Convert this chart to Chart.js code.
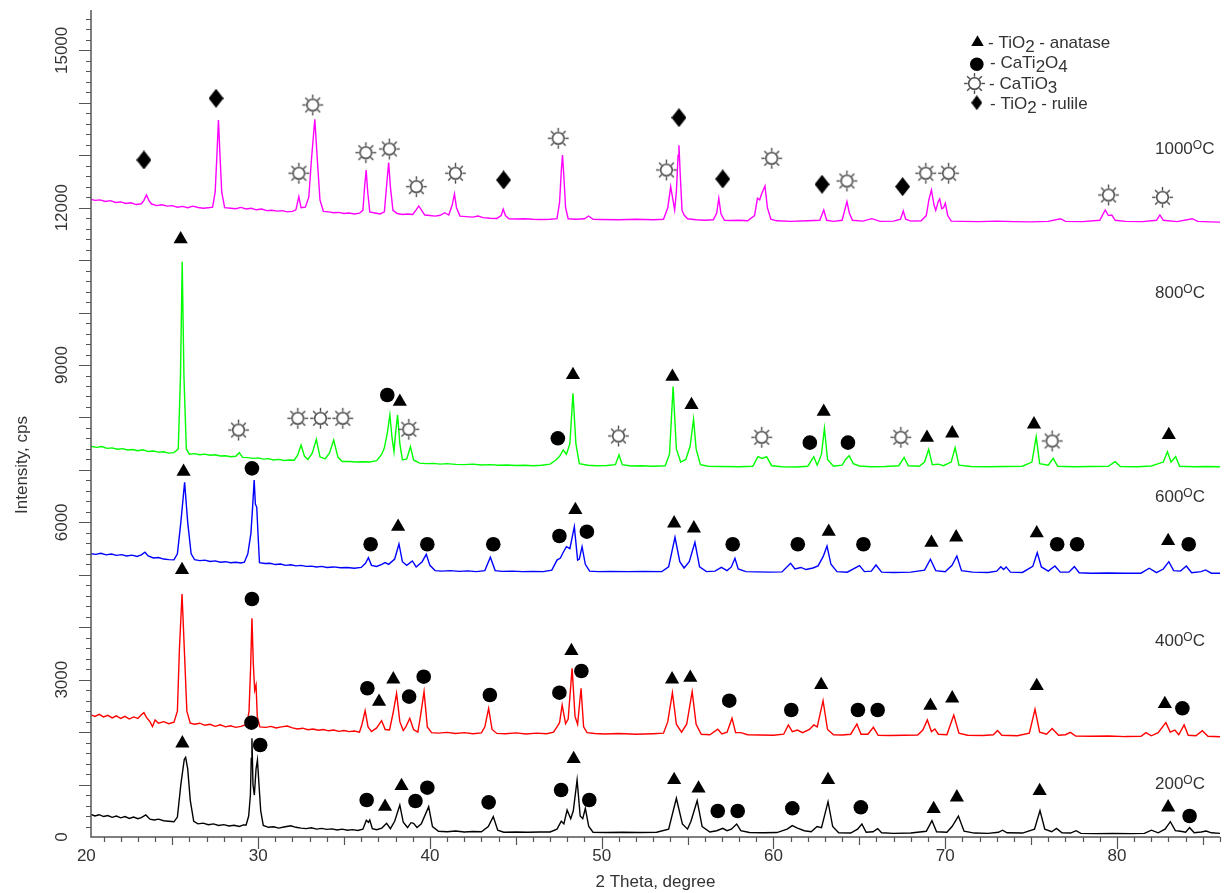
<!DOCTYPE html>
<html>
<head>
<meta charset="utf-8">
<script src="https://cdn.jsdelivr.net/npm/chart.js@4.4.1/dist/chart.umd.min.js"></script>
<style>
  html, body { margin: 0; padding: 0; background: #fff; }
  #wrap { width: 1230px; height: 893px; position: relative; }
</style>
</head>
<body>
<div id="wrap"><canvas id="c"></canvas></div>
<script>
// ---------- DATA (2θ, intensity in cps) ----------
const xTickLabels = [20, 30, 40, 50, 60, 70, 80];
const yTickLabels = [0, 3000, 6000, 9000, 12000, 15000];
const seriesNames = ['1000', '800', '600', '400', '200'];

const s1000 = [[20.27,12160],[20.5,12140],[20.8,12150],[21.1,12120],[21.4,12135],[21.7,12100],[22.0,12110],[22.3,12080],[22.6,12095],[22.9,12060],[23.2,12075],[23.35,12140],[23.5,12243],[23.65,12130],[23.8,12070],[24.1,12040],[24.4,12055],[24.7,12030],[25.0,12040],[25.3,12010],[25.6,12025],[25.9,12000],[26.2,12030],[26.5,12005],[26.8,11990],[27.1,12000],[27.35,12010],[27.5,12300],[27.6,13000],[27.69,13673],[27.78,13000],[27.88,12300],[28.05,12000],[28.4,11990],[28.7,11980],[29.0,12005],[29.3,11975],[29.6,11990],[29.9,11960],[30.2,11975],[30.5,11945],[30.8,11950],[31.1,11935],[31.4,11945],[31.7,11920],[32.0,11930],[32.2,11960],[32.37,12211],[32.5,12000],[32.75,12010],[32.95,12200],[33.1,12900],[33.3,13686],[33.45,12900],[33.6,12150],[33.8,11930],[34.1,11920],[34.4,11905],[34.7,11910],[35.0,11890],[35.3,11900],[35.6,11880],[35.9,11895],[36.1,11950],[36.2,12400],[36.29,12720],[36.38,12300],[36.5,11920],[36.8,11900],[37.1,11880],[37.35,11920],[37.5,12500],[37.6,12860],[37.7,12400],[37.85,11950],[38.1,11890],[38.4,11870],[38.7,11880],[39.0,11870],[39.2,11960],[39.35,12033],[39.5,11960],[39.7,11860],[40.0,11850],[40.3,11840],[40.6,11855],[40.86,11905],[41.1,11860],[41.3,12050],[41.43,12262],[41.55,12000],[41.75,11840],[42.1,11830],[42.5,11820],[42.8,11840],[43.1,11810],[43.5,11800],[43.9,11795],[44.15,11850],[44.27,11970],[44.4,11850],[44.6,11790],[45.0,11785],[45.5,11790],[46.0,11780],[46.5,11775],[47.0,11780],[47.4,11790],[47.55,12100],[47.65,12700],[47.72,13006],[47.8,12600],[47.9,12000],[48.05,11790],[48.5,11780],[49.0,11790],[49.24,11842],[49.5,11780],[50.0,11775],[51,11770],[52,11780],[53,11770],[53.6,11780],[53.85,12000],[54.02,12401],[54.15,12150],[54.25,11957],[54.35,12300],[54.45,13000],[54.5,13190],[54.58,12600],[54.68,11950],[54.8,11860],[55.0,11790],[55.5,11770],[56,11760],[56.5,11770],[56.7,11900],[56.82,12180],[56.95,11880],[57.15,11760],[57.5,11755],[58,11760],[58.5,11750],[58.9,11850],[59.07,12180],[59.2,12150],[59.3,12250],[59.51,12414],[59.65,12000],[59.85,11780],[60.2,11750],[61,11740],[62,11750],[62.7,11760],[62.93,11957],[63.1,11760],[63.5,11740],[64.0,11760],[64.15,11950],[64.28,12116],[64.42,11900],[64.6,11760],[65.2,11745],[65.73,11792],[66.2,11740],[67,11745],[67.4,11780],[67.56,11938],[67.7,11780],[68.0,11745],[68.6,11750],[68.9,11850],[69.05,12150],[69.2,12338],[69.35,12050],[69.45,11950],[69.6,12120],[69.68,12167],[69.8,11980],[69.9,12000],[70.01,12085],[70.15,11850],[70.35,11745],[71,11740],[72,11735],[73,11745],[74,11735],[75,11730],[76,11740],[76.71,11790],[77,11740],[78,11735],[79.0,11760],[79.32,11957],[79.5,11850],[79.7,11860],[79.9,11760],[80.5,11740],[81.5,11735],[82.3,11760],[82.5,11861],[82.7,11760],[83.5,11735],[84.38,11790],[84.7,11740],[85.4,11730],[86.0,11725]];

const s800 = [[20.27,7450],[20.6,7430],[20.9,7445],[21.2,7410],[21.5,7420],[21.8,7395],[22.1,7405],[22.4,7380],[22.7,7390],[23.0,7365],[23.3,7385],[23.6,7350],[23.9,7360],[24.2,7340],[24.5,7345],[24.8,7320],[25.1,7330],[25.35,7400],[25.48,8800],[25.58,10971],[25.68,8800],[25.82,7400],[26.0,7300],[26.3,7310],[26.6,7290],[26.9,7300],[27.2,7280],[27.5,7290],[27.8,7265],[28.1,7270],[28.4,7250],[28.7,7260],[28.9,7329],[29.1,7240],[29.4,7235],[29.7,7220],[30.0,7230],[30.3,7205],[30.6,7215],[30.9,7190],[31.2,7200],[31.5,7180],[31.8,7190],[32.1,7185],[32.3,7280],[32.5,7475],[32.7,7260],[32.9,7200],[33.15,7320],[33.39,7584],[33.6,7250],[33.9,7210],[34.15,7320],[34.4,7571],[34.65,7240],[34.9,7160],[35.3,7160],[35.7,7150],[36.1,7155],[36.5,7150],[36.9,7175],[37.2,7300],[37.35,7420],[37.52,7700],[37.67,8048],[37.8,7600],[37.91,7348],[38.0,7700],[38.12,8048],[38.25,7500],[38.4,7190],[38.65,7210],[38.87,7443],[39.05,7190],[39.4,7130],[39.8,7120],[40.2,7125],[40.6,7110],[41.0,7120],[41.5,7105],[42,7100],[42.5,7110],[43,7094],[43.5,7100],[44,7090],[44.5,7095],[45,7085],[45.5,7090],[46,7080],[46.5,7090],[47.0,7110],[47.3,7180],[47.55,7260],[47.76,7380],[47.95,7300],[48.15,7500],[48.33,8461],[48.5,7500],[48.7,7120],[49.2,7090],[49.7,7080],[50.3,7085],[50.8,7100],[51.01,7285],[51.2,7100],[51.7,7075],[52.3,7080],[53,7070],[53.7,7080],[53.95,7300],[54.16,8588],[54.35,7400],[54.6,7150],[54.9,7200],[55.15,7450],[55.35,7966],[55.5,7400],[55.75,7100],[56.2,7070],[57,7065],[58,7060],[58.8,7070],[59.1,7253],[59.35,7220],[59.6,7253],[59.9,7080],[60.5,7060],[61.3,7055],[62.0,7070],[62.35,7252],[62.55,7090],[62.8,7300],[62.97,7794],[63.15,7200],[63.5,7070],[64.0,7090],[64.2,7200],[64.41,7272],[64.65,7120],[65,7075],[65.7,7060],[66.5,7065],[67.3,7080],[67.61,7240],[67.85,7080],[68.5,7070],[68.8,7150],[69.04,7393],[69.25,7100],[69.6,7110],[69.9,7080],[70.35,7150],[70.58,7424],[70.8,7090],[71.5,7065],[72.5,7060],[73.5,7065],[74.5,7070],[75.05,7150],[75.3,7634],[75.5,7120],[76.0,7090],[76.29,7221],[76.55,7070],[77.5,7060],[78.5,7065],[79.5,7070],[79.89,7157],[80.2,7065],[81.2,7060],[82.0,7075],[82.7,7150],[82.94,7348],[83.15,7150],[83.42,7253],[83.65,7070],[84.5,7060],[85.3,7065],[86.0,7060]];

const s600 = [[20.27,5400],[20.55,5390],[20.85,5410],[21.15,5380],[21.45,5395],[21.75,5370],[22.05,5385],[22.35,5360],[22.65,5375],[22.95,5350],[23.2,5380],[23.41,5430],[23.6,5360],[23.9,5320],[24.2,5330],[24.5,5300],[24.8,5290],[25.1,5285],[25.3,5400],[25.5,6000],[25.72,6764],[25.9,6000],[26.1,5400],[26.3,5290],[26.6,5270],[26.9,5280],[27.2,5255],[27.5,5265],[27.8,5240],[28.1,5250],[28.4,5230],[28.7,5240],[29.0,5225],[29.2,5240],[29.4,5400],[29.58,5791],[29.68,6300],[29.77,6808],[29.84,6350],[29.92,6287],[29.99,5800],[30.08,5230],[30.4,5215],[30.7,5220],[31.0,5195],[31.3,5205],[31.6,5180],[31.9,5190],[32.2,5170],[32.5,5180],[32.8,5160],[33.1,5165],[33.4,5150],[33.7,5160],[34.0,5140],[34.4,5150],[34.8,5135],[35.2,5140],[35.6,5125],[36.0,5140],[36.25,5220],[36.42,5327],[36.6,5180],[36.9,5160],[37.2,5200],[37.39,5232],[37.6,5200],[37.95,5300],[38.2,5588],[38.4,5250],[38.65,5180],[38.98,5264],[39.2,5150],[39.55,5250],[39.79,5391],[40.0,5180],[40.3,5080],[40.7,5070],[41.2,5080],[41.7,5065],[42.2,5075],[42.7,5060],[43.2,5080],[43.52,5334],[43.8,5080],[44.2,5065],[44.8,5070],[45.4,5060],[46,5065],[46.6,5060],[47.1,5090],[47.4,5280],[47.6,5320],[47.75,5420],[47.95,5536],[48.15,5500],[48.41,5918],[48.6,5280],[48.7,5300],[48.86,5536],[49.05,5200],[49.3,5070],[49.8,5060],[50.5,5065],[51.5,5060],[52.5,5065],[53.5,5060],[53.9,5150],[54.27,5715],[54.55,5250],[54.8,5130],[55.1,5250],[55.43,5620],[55.7,5150],[56.1,5060],[56.6,5070],[56.97,5143],[57.3,5080],[57.55,5150],[57.76,5315],[57.95,5110],[58.4,5060],[59,5055],[59.8,5050],[60.5,5055],[61.0,5219],[61.25,5110],[61.6,5140],[61.9,5100],[62.3,5130],[62.6,5170],[62.9,5350],[63.12,5549],[63.35,5200],[63.7,5060],[64.3,5050],[65.01,5174],[65.3,5060],[65.7,5070],[65.97,5187],[66.3,5050],[67,5045],[68,5050],[68.8,5090],[69.14,5296],[69.45,5080],[70.0,5060],[70.4,5180],[70.68,5359],[70.95,5080],[71.6,5050],[72.5,5045],[73.0,5070],[73.24,5155],[73.4,5100],[73.55,5150],[73.8,5050],[74.5,5045],[75.1,5160],[75.36,5422],[75.6,5150],[76.0,5070],[76.39,5168],[76.7,5050],[77.2,5050],[77.52,5155],[77.8,5040],[78.5,5030],[79.5,5035],[80.5,5030],[81.4,5030],[81.88,5125],[82.3,5040],[82.7,5110],[83.02,5250],[83.3,5080],[83.7,5070],[84.04,5168],[84.35,5040],[84.9,5060],[85.16,5092],[85.5,5030],[86.0,5028]];

const s400 = [[20.27,2330],[20.5,2300],[20.75,2340],[21.0,2290],[21.25,2320],[21.5,2270],[21.75,2310],[22.0,2260],[22.25,2300],[22.5,2250],[22.75,2290],[23.0,2260],[23.2,2330],[23.35,2371],[23.5,2280],[23.7,2200],[23.85,2104],[24.0,2230],[24.2,2170],[24.5,2200],[24.8,2160],[25.1,2190],[25.3,2400],[25.42,3600],[25.57,4634],[25.7,3600],[25.85,2400],[26.05,2170],[26.3,2150],[26.6,2170],[26.9,2130],[27.2,2150],[27.5,2110],[27.8,2140],[28.1,2100],[28.4,2120],[28.7,2090],[29.0,2110],[29.35,2150],[29.47,2400],[29.56,3200],[29.64,4171],[29.72,3300],[29.8,2800],[29.88,2899],[29.95,2300],[30.1,2100],[30.45,2090],[30.75,2110],[31.05,2080],[31.35,2100],[31.7,2117],[32.0,2080],[32.3,2060],[32.6,2075],[32.9,2045],[33.2,2060],[33.5,2035],[33.8,2050],[34.1,2025],[34.4,2040],[34.7,2015],[35.0,2030],[35.3,2010],[35.6,2020],[35.9,2000],[36.05,2150],[36.23,2409],[36.4,2100],[36.6,2010],[36.9,2080],[37.19,2218],[37.4,2050],[37.65,2040],[37.85,2350],[38.06,2740],[38.25,2200],[38.45,2030],[38.6,2100],[38.83,2264],[39.05,2050],[39.3,2000],[39.45,2300],[39.66,2771],[39.85,2100],[40.1,1990],[40.5,1980],[41.0,1995],[41.5,1975],[42.0,1990],[42.5,1970],[43.0,1985],[43.2,2100],[43.42,2454],[43.62,2050],[43.9,1975],[44.4,1970],[45.0,1985],[45.6,1965],[46.2,1980],[46.8,1970],[47.2,2000],[47.4,2100],[47.55,2180],[47.7,2518],[47.9,2160],[48.05,2250],[48.28,3217],[48.45,2300],[48.6,2150],[48.8,2836],[48.95,2100],[49.15,1990],[49.6,1975],[50.2,1965],[51,1975],[52,1960],[53,1970],[53.6,1980],[53.85,2200],[54.12,2752],[54.35,2150],[54.65,2000],[54.95,2150],[55.27,2771],[55.5,2150],[55.8,1960],[56.3,1950],[56.76,2055],[57.0,1965],[57.3,2000],[57.59,2264],[57.8,1990],[58.1,1990],[58.5,1950],[59.2,1945],[60.0,1940],[60.6,1960],[60.87,2136],[61.1,2010],[61.4,2040],[61.7,1990],[62.1,2050],[62.35,2136],[62.55,2100],[62.89,2599],[63.15,2050],[63.5,1950],[64.0,1945],[64.5,1960],[64.86,2155],[65.1,1960],[65.5,1960],[65.82,2092],[66.1,1940],[66.8,1935],[67.6,1940],[68.4,1945],[68.7,2040],[68.96,2231],[69.2,2010],[69.4,2060],[69.6,1960],[70.1,1950],[70.5,2327],[70.8,1980],[71.3,1940],[72.2,1935],[72.8,1950],[73.05,2030],[73.3,1940],[74.2,1930],[74.9,1980],[75.23,2435],[75.5,2000],[75.9,1960],[76.23,2068],[76.6,1940],[77.0,1950],[77.29,1996],[77.6,1925],[78.5,1920],[79.5,1925],[80.5,1915],[81.4,1920],[81.69,1990],[82.0,1930],[82.4,1990],[82.85,2180],[83.1,2000],[83.37,2040],[83.6,1950],[83.91,2136],[84.15,1940],[84.6,1930],[84.97,2027],[85.3,1920],[86.0,1913]];

const s200 = [[20.27,430],[20.5,400],[20.75,425],[21.0,390],[21.25,410],[21.5,375],[21.75,400],[22.0,365],[22.25,390],[22.5,355],[22.75,380],[23.0,350],[23.2,370],[23.46,420],[23.7,340],[23.95,325],[24.2,340],[24.5,310],[24.8,300],[25.1,290],[25.3,380],[25.5,1000],[25.7,1480],[25.78,1520],[25.9,1300],[26.05,700],[26.25,300],[26.5,250],[26.8,265],[27.1,235],[27.4,250],[27.7,220],[28.0,235],[28.3,210],[28.6,225],[28.9,200],[29.15,230],[29.3,230],[29.45,400],[29.55,800],[29.6,1500],[29.64,1882],[29.7,1000],[29.78,800],[29.88,1300],[29.96,1468],[30.05,1000],[30.15,500],[30.3,220],[30.6,185],[30.9,195],[31.2,170],[31.5,190],[31.9,215],[32.2,185],[32.5,170],[32.8,160],[33.1,175],[33.4,150],[33.7,165],[34.0,145],[34.3,155],[34.6,135],[34.9,150],[35.2,130],[35.5,140],[35.8,125],[36.1,150],[36.3,320],[36.42,280],[36.5,324],[36.65,160],[36.9,140],[37.2,170],[37.48,260],[37.7,160],[37.95,300],[38.25,610],[38.45,280],[38.7,180],[38.9,273],[39.05,260],[39.25,180],[39.5,250],[39.93,578],[40.15,200],[40.5,110],[41.0,101],[41.5,115],[42,95],[42.5,105],[43.0,100],[43.4,200],[43.69,388],[43.95,130],[44.3,90],[45,95],[45.7,90],[46.4,95],[47.0,95],[47.4,150],[47.65,300],[47.8,250],[47.99,515],[48.2,350],[48.35,500],[48.57,1087],[48.75,400],[48.9,350],[49.05,547],[49.25,200],[49.5,90],[50.3,85],[51.2,90],[52.2,85],[53.2,90],[53.9,150],[54.35,738],[54.7,250],[55.0,150],[55.2,300],[55.56,692],[55.85,200],[56.3,95],[56.7,120],[57.05,165],[57.3,120],[57.55,150],[57.86,248],[58.1,120],[58.6,85],[59.4,80],[60.2,85],[60.8,150],[61.1,216],[61.4,170],[61.8,120],[62.2,100],[62.54,200],[62.8,180],[63.18,674],[63.45,200],[63.8,80],[64.5,75],[64.9,150],[65.15,248],[65.4,90],[65.8,100],[66.07,160],[66.3,80],[67,70],[68,75],[68.9,110],[69.23,311],[69.5,100],[70.1,90],[70.4,200],[70.77,400],[71.1,110],[71.7,75],[72.5,70],[73.1,90],[73.34,130],[73.6,80],[74.5,75],[75.2,150],[75.52,502],[75.8,150],[76.2,100],[76.48,165],[76.8,80],[77.3,75],[77.62,120],[77.9,70],[78.8,65],[79.8,70],[80.8,65],[81.6,70],[82.01,130],[82.4,80],[82.8,150],[83.11,292],[83.4,120],[83.7,110],[84.0,90],[84.23,178],[84.5,80],[84.9,95],[85.19,114],[85.5,80],[86.0,70]];

// Phase markers (position of each symbol)
const anatasePts = [[25.49,11398],[38.25,8301],[48.33,8810],[54.12,8778],[55.23,8238],[62.93,8111],[68.94,7615],[70.41,7698],[75.17,7870],[83.02,7666],
  [25.66,6967],[38.15,5918],[48.47,6236],[54.22,5982],[55.37,5887],[63.22,5822],[69.20,5613],[70.64,5715],[75.33,5792],[82.98,5645],
  [25.57,5092],[37.04,2580],[37.87,3007],[48.24,3547],[54.10,3007],[55.16,3038],[62.78,2899],[69.14,2504],[70.41,2645],[75.33,2880],[82.79,2536],
  [25.59,1787],[37.39,578],[38.35,973],[48.37,1487],[54.22,1087],[55.64,928],[63.18,1087],[69.33,534],[70.68,757],[75.50,877],[82.98,566]];
const caTi2O4Pts = [[37.52,8429],[47.45,7603],[62.12,7520],[64.34,7520],
  [29.64,7030],[36.55,5582],[39.85,5582],[43.69,5582],[47.54,5740],[49.14,5822],[57.63,5582],[61.42,5582],[65.24,5582],[76.52,5582],[77.68,5582],[84.18,5582],
  [29.64,4539],[36.36,2836],[38.79,2676],[39.64,3057],[43.49,2708],[47.54,2752],[48.82,3166],[57.43,2599],[61.04,2422],[64.92,2422],[66.07,2422],[83.81,2454],
  [29.61,2180],[30.12,1754],[36.32,706],[39.16,687],[39.85,940],[43.42,661],[47.64,896],[49.28,706],[56.76,496],[57.92,496],[61.10,547],[65.09,566],[84.23,400]];
const caTiO3Pts = [[32.37,12657],[33.18,13959],[36.27,13050],[37.64,13120],[39.21,12401],[41.49,12657],[47.47,13324],[53.77,12720],[59.90,12943],[64.28,12510],[68.87,12657],[70.20,12657],[79.51,12243],[82.65,12199],
  [28.86,7761],[32.31,7984],[33.63,7984],[34.93,7984],[38.77,7775],[50.98,7647],[59.32,7622],[67.42,7622],[76.23,7552]];
const rutilePts = [[23.35,12910],[27.55,14087],[44.29,12529],[54.50,13717],[57.05,12548],[62.83,12447],[67.52,12401]];

// ---------- STYLE ----------
const FAMILY = "'Liberation Sans', Arial, sans-serif";
const TEXT = '#333333';
const AXIS = '#555555';
const curveColors = { '1000': '#ff00ff', '800': '#00ff00', '600': '#0000ff', '400': '#ff0000', '200': '#000000' };
const curveData = { '1000': s1000, '800': s800, '600': s600, '400': s400, '200': s200 };
const labelBaselines = { '1000': 154, '800': 298, '600': 501.5, '400': 646, '200': 789 };

function makeSun(scale) {
  const s = scale || 1;
  const size = Math.ceil(23 * s);
  const c = document.createElement('canvas');
  c.width = size; c.height = size;
  const g = c.getContext('2d');
  const cx = size / 2, cy = size / 2;
  g.strokeStyle = '#4a4a4a'; g.lineWidth = 1.5;
  g.fillStyle = '#fff';
  g.beginPath(); g.arc(cx, cy, 5.8 * s, 0, Math.PI * 2); g.fill(); g.stroke();
  g.lineWidth = 1.4;
  for (let i = 0; i < 8; i++) {
    const a = i * Math.PI / 4;
    g.beginPath();
    g.moveTo(cx + Math.cos(a) * 6.8 * s, cy + Math.sin(a) * 6.8 * s);
    g.lineTo(cx + Math.cos(a) * 10.4 * s, cy + Math.sin(a) * 10.4 * s);
    g.stroke();
  }
  return c;
}
function makeDiamond(w, h) {
  const c = document.createElement('canvas');
  c.width = w; c.height = h;
  const g = c.getContext('2d');
  g.fillStyle = '#000';
  g.beginPath(); g.moveTo(w / 2, 0); g.lineTo(w, h / 2); g.lineTo(w / 2, h); g.lineTo(0, h / 2); g.closePath(); g.fill();
  return c;
}
const sunImg = makeSun(1);
const diamondImg = makeDiamond(15, 19);
const legendDiamond = makeDiamond(11, 15);

const toXY = arr => arr.map(([x, y]) => ({ x, y }));

const markerSets = [
  { label: 'TiO2 - anatase', data: toXY(anatasePts), pointStyle: 'triangle', pointRadius: 8.2, backgroundColor: '#000', borderColor: '#000', borderWidth: 0 },
  { label: 'CaTi2O4', data: toXY(caTi2O4Pts), pointStyle: 'circle', pointRadius: 7.3, backgroundColor: '#000', borderColor: '#000', borderWidth: 0 },
  { label: 'CaTiO3', data: toXY(caTiO3Pts), pointStyle: sunImg, pointRadius: 10, backgroundColor: '#fff', borderColor: '#555', borderWidth: 0 },
  { label: 'TiO2 - rutile', data: toXY(rutilePts), pointStyle: diamondImg, pointRadius: 8, backgroundColor: '#000', borderColor: '#000', borderWidth: 0 }
].map(d => Object.assign(d, { showLine: false, pointHoverRadius: d.pointRadius }));

const curveSets = seriesNames.map(n => ({
  label: n + ' °C',
  data: toXY(curveData[n]),
  showLine: true,
  borderColor: curveColors[n],
  backgroundColor: curveColors[n],
  borderWidth: 1.4,
  pointRadius: 0,
  pointHoverRadius: 0,
  tension: 0,
  fill: false
}));

// draw a run of text pieces: [text, dy, size]
function drawRuns(ctx, x, y, parts) {
  let cx = x;
  for (const [t, dy, size] of parts) {
    ctx.font = (size || 17) + 'px ' + FAMILY;
    ctx.fillText(t, cx, y + (dy || 0));
    cx += ctx.measureText(t).width;
  }
}

const decor = {
  id: 'decor',
  afterDraw(chart) {
    const ctx = chart.ctx, xs = chart.scales.x, ys = chart.scales.y, ca = chart.chartArea;
    ctx.save();
    // axis lines
    ctx.strokeStyle = AXIS; ctx.lineWidth = 1.5;
    ctx.beginPath();
    ctx.moveTo(ca.left, ca.top); ctx.lineTo(ca.left, ca.bottom); ctx.lineTo(ca.right, ca.bottom);
    ctx.stroke();
    // x tick marks
    ctx.lineWidth = 1.2;
    ctx.beginPath();
    for (let v = Math.ceil(xs.min); v <= xs.max; v++) {
      const p = Math.round(xs.getPixelForValue(v)) + 0.5;
      const len = v % 10 === 0 ? 12 : (v % 5 === 0 ? 8 : 5);
      ctx.moveTo(p, ca.bottom); ctx.lineTo(p, ca.bottom + len);
    }
    // y tick marks
    for (let v = 200; v <= ys.max; v += 200) {
      const p = Math.round(ys.getPixelForValue(v)) + 0.5;
      const len = v % 1000 === 0 ? 12 : 5;
      ctx.moveTo(ca.left - len, p); ctx.lineTo(ca.left, p);
    }
    ctx.stroke();
    // y tick labels (rotated)
    ctx.fillStyle = TEXT;
    ctx.font = '17px ' + FAMILY;
    ctx.textAlign = 'center'; ctx.textBaseline = 'alphabetic';
    for (const v of yTickLabels) {
      const p = ys.getPixelForValue(v);
      ctx.save(); ctx.translate(67, p); ctx.rotate(-Math.PI / 2); ctx.fillText(String(v), 0, 0); ctx.restore();
    }
    // y title
    ctx.save(); ctx.translate(27, 465); ctx.rotate(-Math.PI / 2);
    ctx.textBaseline = 'alphabetic'; ctx.fillText('Intensity, cps', 0, 0); ctx.restore();
    // series labels
    ctx.textAlign = 'left'; ctx.textBaseline = 'alphabetic';
    for (const n of seriesNames) {
      drawRuns(ctx, 1155, labelBaselines[n], [[n, 0, 17], ['O', -5, 12], ['C', 0, 17]]);
    }
    // legend
    ctx.fillStyle = '#000';
    const tr = 7.2;
    ctx.beginPath();
    ctx.moveTo(977.5, 42.5 - tr);
    ctx.lineTo(977.5 + tr * 0.866, 42.5 + tr * 0.5);
    ctx.lineTo(977.5 - tr * 0.866, 42.5 + tr * 0.5);
    ctx.closePath(); ctx.fill();
    ctx.beginPath(); ctx.arc(976.8, 64.3, 6.8, 0, Math.PI * 2); ctx.fill();
    ctx.drawImage(sunImg, 974.5 - sunImg.width / 2, 83.5 - sunImg.height / 2);
    ctx.drawImage(legendDiamond, 976.8 - legendDiamond.width / 2, 102.7 - legendDiamond.height / 2);
    ctx.fillStyle = TEXT;
    drawRuns(ctx, 988, 47.5, [['- TiO', 0], ['2', 4], [' - anatase', 0]]);
    drawRuns(ctx, 990, 68, [['- CaTi', 0], ['2', 4], ['O', 0], ['4', 4]]);
    drawRuns(ctx, 989, 88.5, [['- CaTiO', 0], ['3', 4]]);
    drawRuns(ctx, 990, 108.5, [['- TiO', 0], ['2', 4], [' - rulile', 0]]);
    ctx.restore();
  }
};

new Chart(document.getElementById('c'), {
  type: 'scatter',
  data: { datasets: markerSets.concat(curveSets) },
  options: {
    responsive: true,
    maintainAspectRatio: false,
    animation: false,
    events: [],
    layout: { padding: { left: 0, right: 3, top: 10, bottom: 0 } },
    plugins: { legend: { display: false }, tooltip: { enabled: false } },
    scales: {
      x: {
        type: 'linear', min: 20.27, max: 86,
        afterBuildTicks: s => { s.ticks = xTickLabels.map(v => ({ value: v })); },
        afterFit: s => { s.height = 56; },
        grid: { display: false, drawTicks: false },
        border: { display: false },
        ticks: { autoSkip: false, maxRotation: 0, minRotation: 0, padding: 9, color: TEXT, font: { family: FAMILY, size: 17 } },
        title: { display: true, text: '2 Theta, degree', color: TEXT, font: { family: FAMILY, size: 17 }, padding: { top: 0, bottom: 0 } }
      },
      y: {
        type: 'linear', min: 0, max: 15770,
        afterFit: s => { s.width = 91; },
        grid: { display: false, drawTicks: false },
        border: { display: false },
        ticks: { display: false }
      }
    }
  },
  plugins: [decor]
});
</script>
</body>
</html>
